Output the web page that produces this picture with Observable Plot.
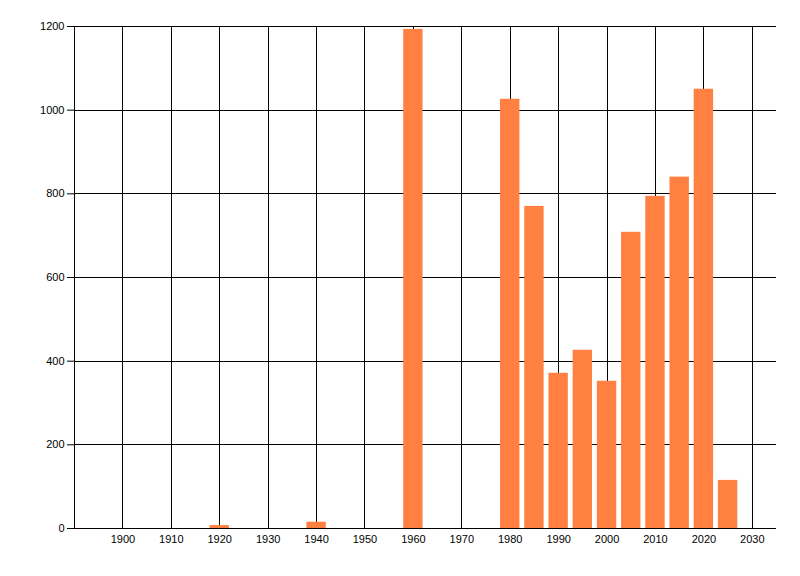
<!DOCTYPE html>
<html>
<head>
<meta charset="utf-8">
<script src="https://cdn.jsdelivr.net/npm/d3@7"></script>
<script src="https://cdn.jsdelivr.net/npm/@observablehq/plot@0.6"></script>
<style>
  html, body { margin: 0; padding: 0; background: #fff; }
  #chart svg { display: block; }
  #chart svg line { shape-rendering: crispEdges; }
</style>
</head>
<body>
<div id="chart"></div>
<script>
const years = [1920, 1940, 1960, 1980, 1985, 1990, 1995, 2000, 2005, 2010, 2015, 2020, 2025];
const values = [7, 15, 1193, 1026, 770, 371, 426, 352, 708, 794, 840, 1050, 115];
const xTicks = [1900, 1910, 1920, 1930, 1940, 1950, 1960, 1970, 1980, 1990, 2000, 2010, 2020, 2030];
const yTicks = [0, 200, 400, 600, 800, 1000, 1200];
const xDomain = [1890, 2035];
const yDomain = [0, 1200];
const barHalfWidth = 2;

const data = years.map((y, i) => ({year: y, value: values[i]}));

const chart = Plot.plot({
  width: 800,
  height: 576,
  marginLeft: 74,
  marginRight: 24,
  marginTop: 26,
  marginBottom: 48,
  style: {fontFamily: "'Liberation Sans', Arial, sans-serif", fontSize: "11px", color: "#000", background: "#fff"},
  x: {domain: xDomain},
  y: {domain: yDomain},
  marks: [
    Plot.ruleX(xTicks, {x: d => d, y1: yDomain[0], y2: yDomain[1], stroke: "#000", strokeWidth: 1}),
    Plot.ruleY(yTicks, {y: d => d, x1: xDomain[0], x2: xDomain[1], stroke: "#000", strokeWidth: 1}),
    Plot.rectY(data, {x1: d => d.year - barHalfWidth, x2: d => d.year + barHalfWidth, y1: 0, y2: "value", fill: "#FF8040"}),
    Plot.ruleX([xDomain[0]], {y1: yDomain[0], y2: yDomain[1], stroke: "#000", strokeWidth: 1}),
    Plot.ruleY([0], {x1: xDomain[0], x2: xDomain[1], stroke: "#000", strokeWidth: 1}),
    Plot.axisX({ticks: xTicks, tickSize: 0, tickPadding: 7, tickFormat: d => String(d), fill: "#000", label: null}),
    Plot.axisY({ticks: yTicks, tickSize: 7, tickPadding: 3, tickFormat: d => String(d), stroke: "#000", fill: "#000", strokeOpacity: 1, label: null})
  ]
});
document.getElementById("chart").appendChild(chart);
</script>
</body>
</html>
